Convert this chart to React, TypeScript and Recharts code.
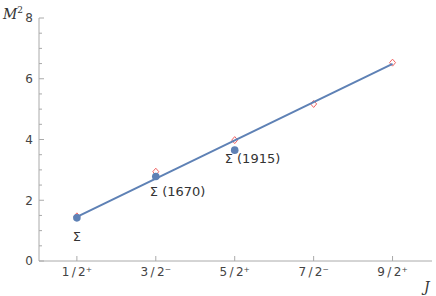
import React from 'react';
import { ComposedChart, Scatter, XAxis, YAxis } from 'recharts';

const categories = ['1\u2009/\u20092⁺', '3\u2009/\u20092⁻', '5\u2009/\u20092⁺', '7\u2009/\u20092⁻', '9\u2009/\u20092⁺'];
const jIndex = [1, 2, 3, 4, 5];

// observed Sigma states (blue dots)
const sigmaJ = [1, 2, 3];
const sigmaM2 = [1.42, 2.78, 3.65];
const sigmaNames = ['Σ', 'Σ (1670)', 'Σ (1915)'];

// predicted states (red open diamonds)
const predictedM2 = [1.47, 2.94, 3.98, 5.17, 6.53];

// linear Regge fit
const fitJ = [1, 5];
const fitM2 = [1.45, 6.49];

const yTicks = [0, 0.5, 1, 1.5, 2, 2.5, 3, 3.5, 4, 4.5, 5, 5.5, 6, 6.5, 7, 7.5, 8];

const axisColor = '#aaaaaa';
const textColor = '#444444';
const blue = '#5e81b5';
const red = '#f26464';
const font = 'DejaVu Sans, sans-serif';

const sigmaData = sigmaJ.map((x, i) => ({ x, y: sigmaM2[i], name: sigmaNames[i] }));
const predictedData = jIndex.map((x, i) => ({ x, y: predictedM2[i] }));
const fitData = fitJ.map((x, i) => ({ x, y: fitM2[i] }));

// where each state name sits relative to its dot
const labelOffsets: Record<string, [number, number, string]> = {
  'Σ': [0, 23, 'middle'],
  'Σ (1670)': [-6, 19, 'start'],
  'Σ (1915)': [-10, 13, 'start'],
};

const LeftTick = ({ x, y, payload }: any) => {
  const v = payload.value;
  const major = v % 2 === 0;
  return (
    <g>
      <line x1={x} x2={x + (major ? 5 : 3)} y1={y} y2={y} stroke={axisColor} />
      {major && (
        <text x={x - 6} y={y} dy="0.36em" textAnchor="end" fill={textColor} fontSize={12} fontFamily={font}>
          {v}
        </text>
      )}
    </g>
  );
};

const RightTick = ({ x, y, payload }: any) => {
  const major = payload.value % 2 === 0;
  return <line x1={x} x2={x - (major ? 5 : 3)} y1={y} y2={y} stroke={axisColor} />;
};

const BottomTick = ({ x, y, payload }: any) => (
  <g>
    <line x1={x} x2={x} y1={y} y2={y - 5} stroke={axisColor} />
    <text x={x} y={y + 15} textAnchor="middle" fill={textColor} fontSize={12} fontFamily={font}>
      {categories[payload.value - 1]}
    </text>
  </g>
);

const Diamond = ({ cx, cy }: any) => (
  <path
    d={`M${cx},${cy - 3.5} L${cx + 3},${cy} L${cx},${cy + 3.5} L${cx - 3},${cy} Z`}
    fill="none"
    stroke={red}
    strokeWidth={1}
  />
);

const SigmaDot = ({ cx, cy, payload }: any) => {
  const [dx, dy, anchor] = labelOffsets[payload.name];
  return (
    <g>
      <circle cx={cx} cy={cy} r={3.8} fill={blue} />
      <text x={cx + dx} y={cy + dy} textAnchor={anchor as any} fill="#333" fontSize={13} fontFamily={font}>
        {payload.name}
      </text>
    </g>
  );
};

export default function App() {
  return (
    <div style={{ position: 'absolute', left: 0, top: 0, background: '#fff' }}>
      <ComposedChart width={436} height={296} margin={{ top: 18, right: 4, bottom: 0, left: 0 }}>
        <XAxis
          type="number"
          dataKey="x"
          domain={[0.52, 5.5]}
          ticks={jIndex}
          interval={0}
          allowDataOverflow
          height={35}
          stroke={axisColor}
          tickSize={0}
          tickMargin={0}
          tick={<BottomTick />}
          tickLine={false}
        />
        <XAxis
          xAxisId="top"
          orientation="top"
          type="number"
          domain={[0.52, 5.5]}
          height={0}
          stroke={axisColor}
          tick={false}
          tickLine={false}
        />
        <YAxis
          type="number"
          domain={[0, 8]}
          ticks={yTicks}
          interval={0}
          width={39}
          stroke={axisColor}
          tickSize={0}
          tickMargin={0}
          tick={<LeftTick />}
          tickLine={false}
        />
        <YAxis
          yAxisId="r"
          orientation="right"
          type="number"
          domain={[0, 8]}
          ticks={yTicks}
          interval={0}
          width={0}
          stroke={axisColor}
          tickSize={0}
          tickMargin={0}
          tick={<RightTick />}
          tickLine={false}
        />
        <Scatter data={predictedData} dataKey="y" shape={<Diamond />} isAnimationActive={false} />
        <Scatter
          data={fitData}
          dataKey="y"
          line={{ stroke: blue, strokeWidth: 2 }}
          shape={() => <g />}
          isAnimationActive={false}
        />
        <Scatter data={sigmaData} dataKey="y" shape={<SigmaDot />} isAnimationActive={false} />
        <text x={3} y={19} fontFamily="DejaVu Serif, serif" fontStyle="italic" fontSize={14} fill="#333">
          M
          <tspan fontSize={9} dy={-6} fontStyle="normal">2</tspan>
        </text>
        <text x={424} y={292} fontFamily="DejaVu Serif, serif" fontStyle="italic" fontSize={14} fill="#333">
          J
        </text>
      </ComposedChart>
    </div>
  );
}
